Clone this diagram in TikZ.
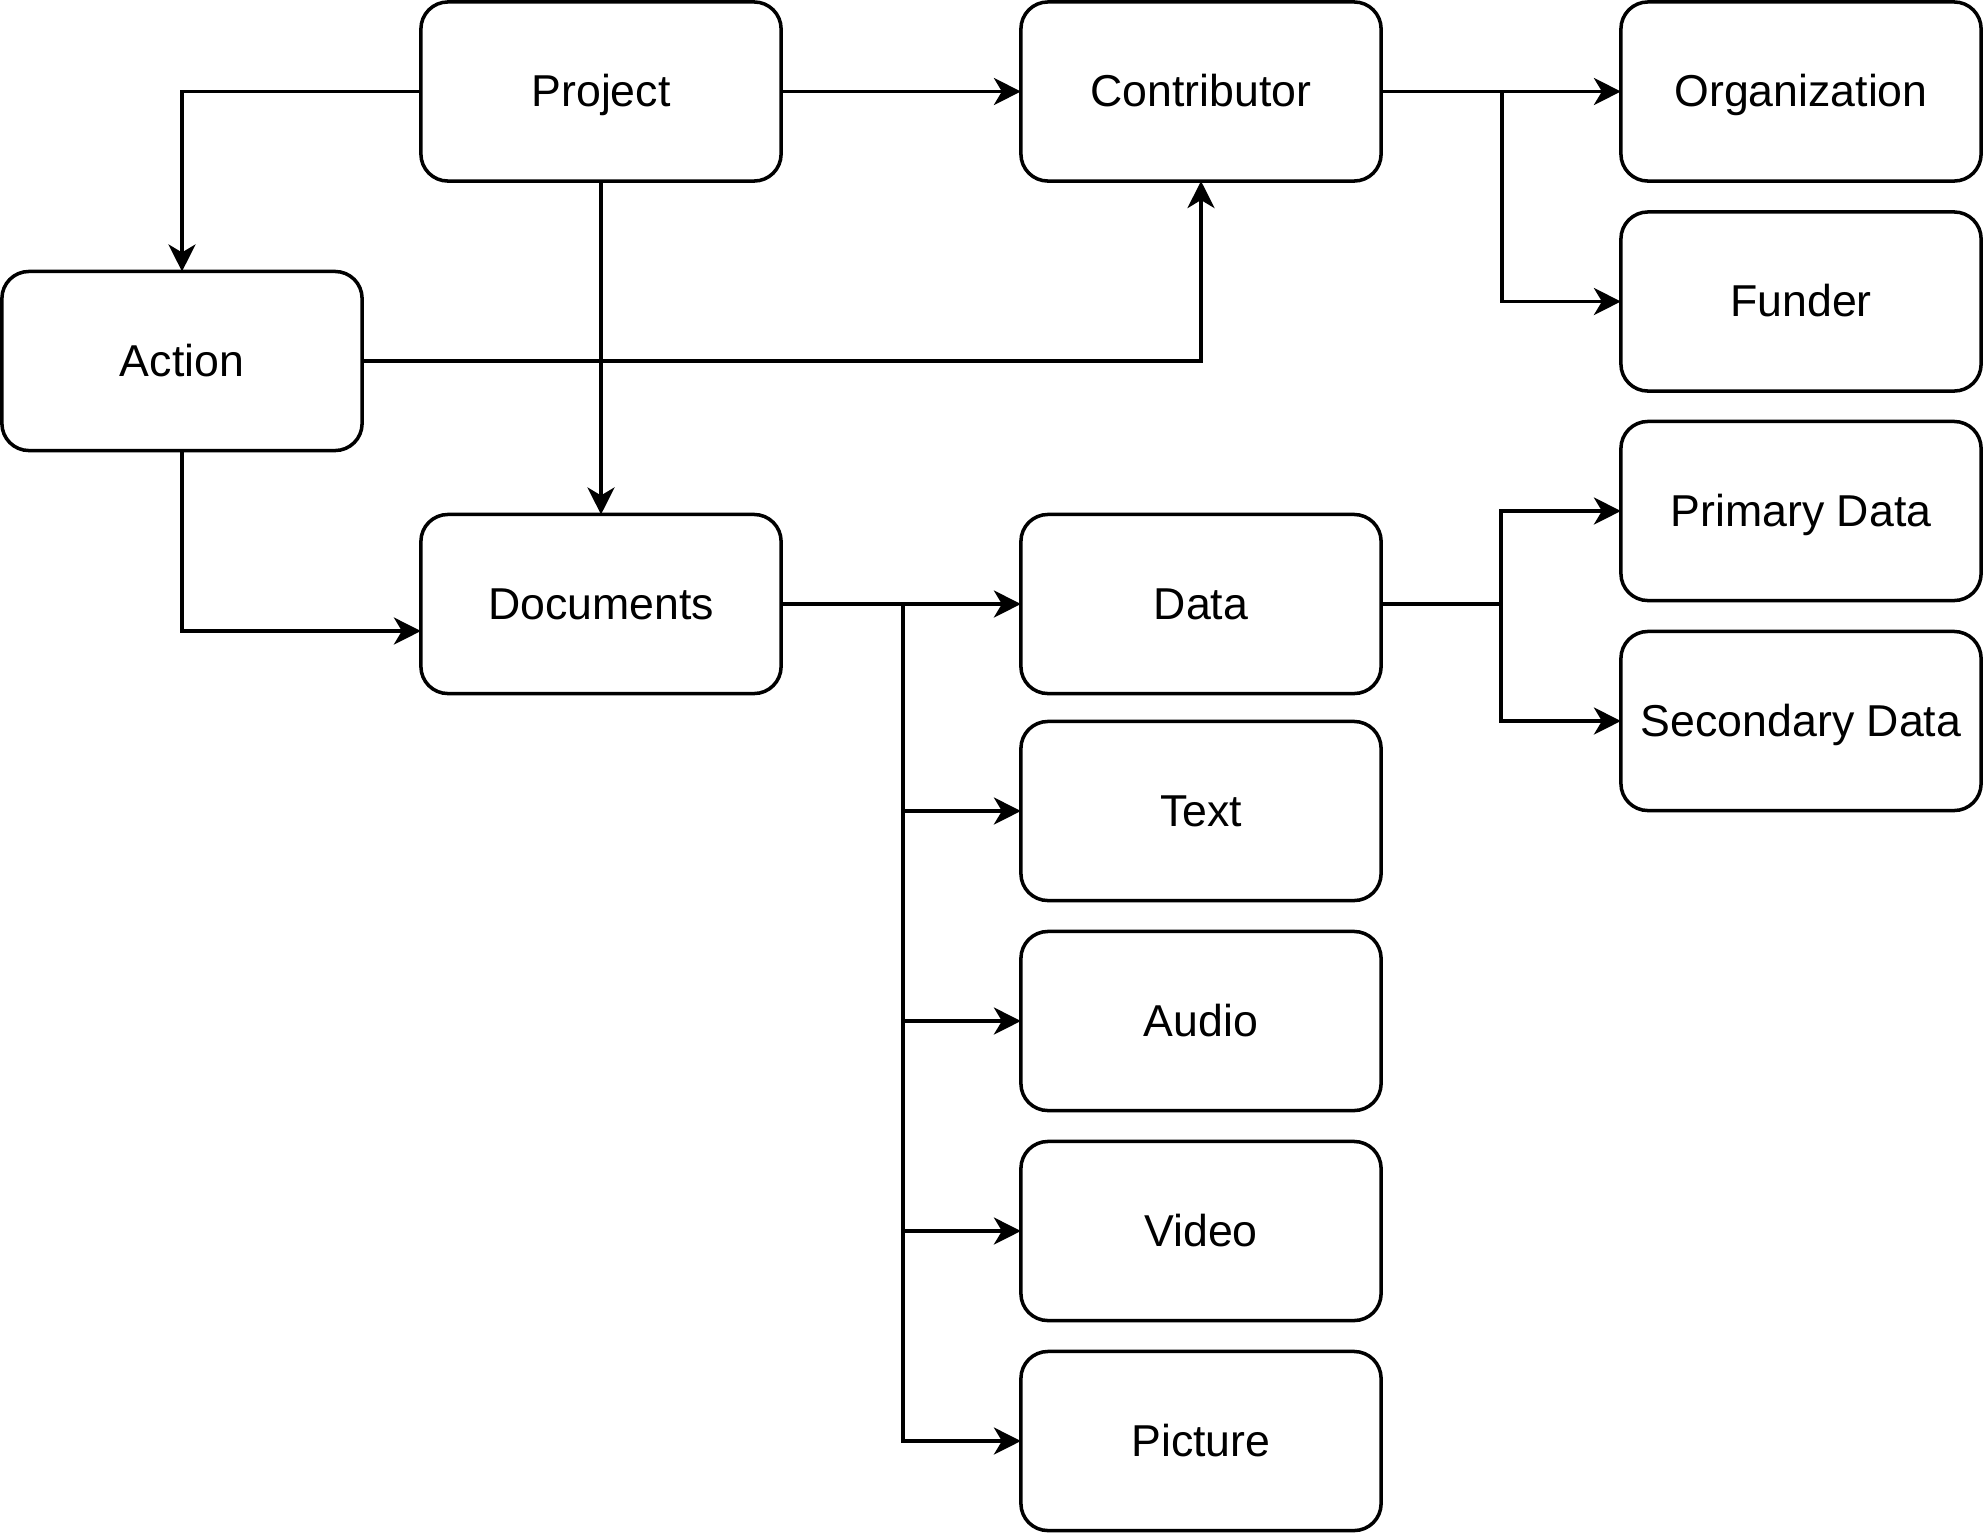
\documentclass[tikz,border=0pt]{standalone}
\usepackage{fontspec}
\setmainfont{Liberation Sans}
\usetikzlibrary{arrows.meta}
\begin{document}
\begin{tikzpicture}[x=0.01cm,y=-0.01cm,
  box/.style={draw,line width=1pt,rounded corners=0.27cm,minimum width=3.60cm,minimum height=1.79cm,inner sep=0pt,outer sep=0pt,text height=11.4pt,text depth=2.6pt,font=\fontsize{12.7}{15}\selectfont},
  arr/.style={line width=1pt,-{Stealth[length=2.7mm,width=2.7mm,inset=0.8mm]}},
  ln/.style={line width=1pt}]
\useasboundingbox (0,0) rectangle (1983,1533);
\node[box] (project) at (601,91.5) {Project};
\node[box] (contrib) at (1201,91.5) {Contributor};
\node[box] (org) at (1801,91.5) {Organization};
\node[box] (funder) at (1801,301.5) {Funder};
\node[box] (action) at (182,361) {Action};
\node[box] (primary) at (1801,511) {Primary Data};
\node[box] (docs) at (601,604) {Documents};
\node[box] (data) at (1201,604) {Data};
\node[box] (secondary) at (1801,721) {Secondary Data};
\node[box] (text) at (1201,811) {Text};
\node[box] (audio) at (1201,1021) {Audio};
\node[box] (video) at (1201,1231) {Video};
\node[box] (picture) at (1201,1441) {Picture};

\draw[arr] (project.west) -| (action.north);
\draw[arr] (project.east) -- (contrib.west);
\draw[arr] (project.south) -- (docs.north);
\draw[arr] (contrib.east) -- (org.west);
\draw[arr] (contrib.east) -- ++(1.21cm,0) |- (funder.west);
\draw[arr] (action.east) -| (contrib.south);
\draw[arr] (action.south) |- ([yshift=-0.27cm]docs.west);
\draw[arr] (docs.east) -- (data.west);
\draw[arr] (docs.east) -- ++(1.22cm,0) |- (text.west);
\draw[arr] (docs.east) -- ++(1.22cm,0) |- (audio.west);
\draw[arr] (docs.east) -- ++(1.22cm,0) |- (video.west);
\draw[arr] (docs.east) -- ++(1.22cm,0) |- (picture.west);
\draw[arr] (data.east) -- ++(1.2cm,0) |- (primary.west);
\draw[arr] (data.east) -- ++(1.2cm,0) |- (secondary.west);
\end{tikzpicture}
\end{document}
